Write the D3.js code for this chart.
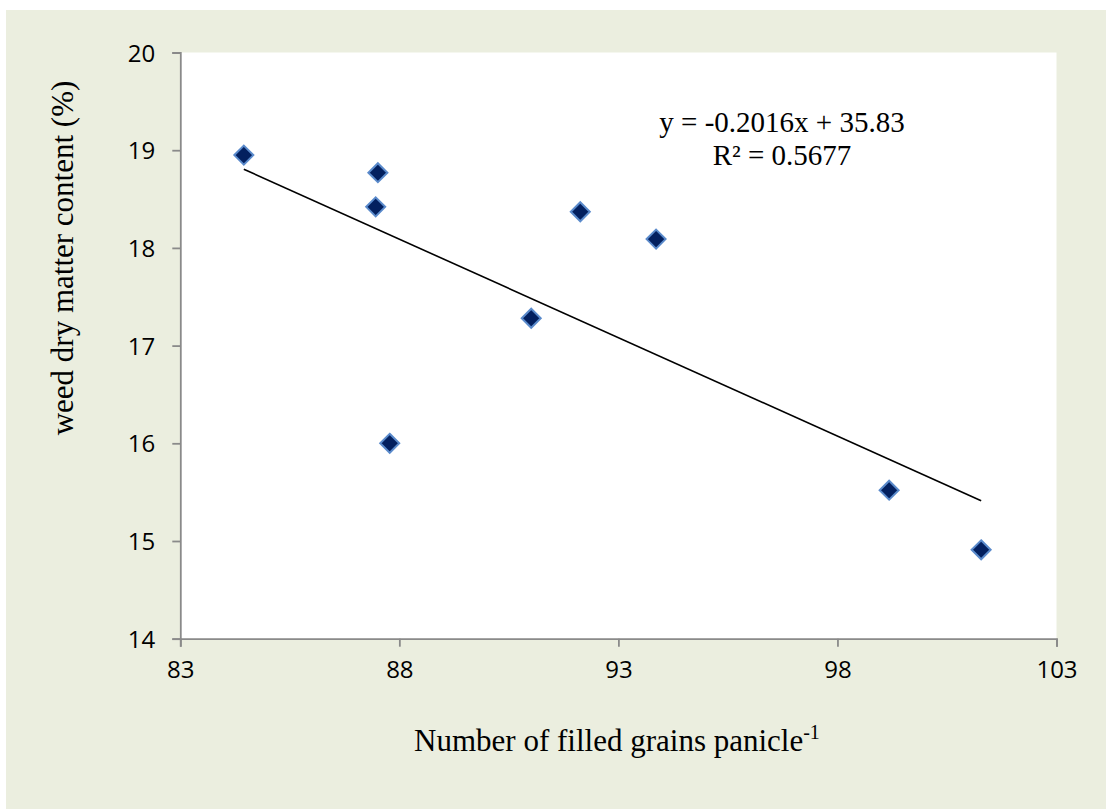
<!DOCTYPE html>
<html><head><meta charset="utf-8">
<script src="https://cdn.jsdelivr.net/npm/d3@7"></script>
<style>html,body{margin:0;padding:0;background:#fff;}svg{display:block;}</style>
</head><body>
<script>
const grains = [84.45, 87.51, 87.46, 87.78, 91.01, 92.13, 93.86, 99.18, 101.28];
const weedDM = [18.95, 18.77, 18.42, 16.00, 17.28, 18.37, 18.09, 15.52, 14.91];
const xTicks = [83, 88, 93, 98, 103];
const yTicks = [14, 15, 16, 17, 18, 19, 20];
const trendSlope = -0.2016;
const trendIntercept = 35.83;
const eqLabel = "y = -0.2016x + 35.83";
const r2Label = "R² = 0.5677";
const xTitle = "Number of filled grains panicle";
const xTitleSup = "-1";
const yTitle = "weed dry matter content (%)";

const W = 1106, H = 809;
const svg = d3.select("body").append("svg").attr("width", W).attr("height", H);
svg.append("rect").attr("x", 6).attr("y", 10).attr("width", W - 6).attr("height", H - 10).attr("fill", "#EBEEDF");

const L = 180.3, R = 1056.5, T = 52.5, B = 638.7;
const x = d3.scaleLinear().domain([83, 103]).range([L, R]);
const y = d3.scaleLinear().domain([14, 20]).range([B, T]);

svg.append("rect").attr("x", L).attr("y", T).attr("width", R - L).attr("height", B - T).attr("fill", "#fff");

const axisColor = "#8A8A8A";
const gx = svg.append("g").attr("transform", `translate(0,${B})`)
  .call(d3.axisBottom(x).tickValues(xTicks).tickSize(8).tickPadding(9).tickFormat(d3.format("d")));
const gy = svg.append("g").attr("transform", `translate(${L},0)`)
  .call(d3.axisLeft(y).tickValues(yTicks).tickSize(8).tickPadding(17).tickFormat(d3.format("d")));
[gx, gy].forEach(g => {
  g.select(".domain").attr("stroke", axisColor).attr("stroke-width", 1.8);
  g.selectAll(".tick line").attr("stroke", axisColor).attr("stroke-width", 1.8);
  g.selectAll(".tick text").attr("fill", "#000").style("font-family", "'Open Sans', sans-serif").style("font-size", "24px");
});
gx.selectAll(".tick text").attr("dy", "0.92em");
gy.selectAll(".tick text").attr("dy", "0.36em");

// trendline
const xMin = d3.min(grains), xMax = d3.max(grains);
svg.append("line")
  .attr("x1", x(xMin)).attr("y1", y(trendSlope * xMin + trendIntercept))
  .attr("x2", x(xMax)).attr("y2", y(trendSlope * xMax + trendIntercept))
  .attr("stroke", "#000").attr("stroke-width", 1.6);

// points
const pts = grains.map((g, i) => [g, weedDM[i]]);
svg.append("g").selectAll("path").data(pts).join("path")
  .attr("transform", d => `translate(${x(d[0])},${y(d[1])})`)
  .attr("d", "M0,-9.5L9.5,0L0,9.5L-9.5,0Z")
  .attr("fill", "#03205F").attr("stroke", "#5A8ACB").attr("stroke-width", 2);

const serif = "'Liberation Serif', 'Times New Roman', serif";
svg.append("text").attr("x", 782).attr("y", 132).attr("text-anchor", "middle")
  .style("font-family", serif).style("font-size", "29px").text(eqLabel);
svg.append("text").attr("x", 782).attr("y", 165).attr("text-anchor", "middle")
  .style("font-family", serif).style("font-size", "29px").text(r2Label);

const xt = svg.append("text").attr("x", 617).attr("y", 751).attr("text-anchor", "middle")
  .style("font-family", serif).style("font-size", "31px");
xt.append("tspan").text(xTitle);
xt.append("tspan").attr("dy", -12).style("font-size", "20px").text(xTitleSup);

svg.append("text").attr("transform", "translate(73,258) rotate(-90)").attr("text-anchor", "middle")
  .style("font-family", serif).style("font-size", "31px").text(yTitle);
</script>
</body></html>
